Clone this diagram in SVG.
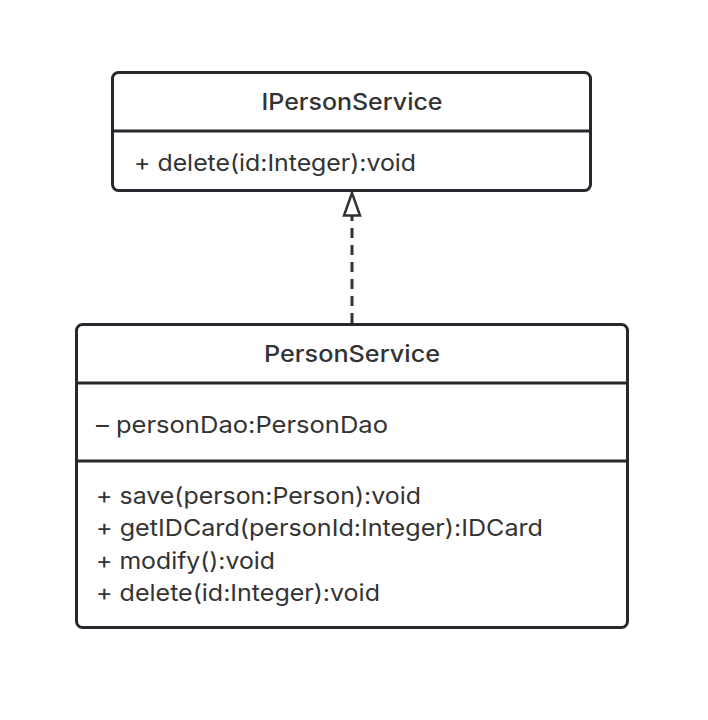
<svg xmlns="http://www.w3.org/2000/svg" width="708" height="720" viewBox="0 0 708 720">
<style>
.box{fill:#fff;stroke:#25282c;stroke-width:3}
.div{stroke:#25282c;stroke-width:3}
.t{font-family:Inter,"Noto Sans","Liberation Sans",sans-serif;font-size:23px;fill:#333}
.h{font-weight:500;text-anchor:middle}
</style>
<rect width="708" height="720" fill="#fff"/>
<g id="IPersonService">
<rect class="box" x="112.5" y="72.5" width="478" height="118" rx="6"/>
<line class="div" x1="112.5" y1="131" x2="590.5" y2="131"/>
<text class="t h" x="352" y="110" textLength="181" lengthAdjust="spacingAndGlyphs">IPersonService</text>
<text class="t" x="134" y="171" textLength="282" lengthAdjust="spacingAndGlyphs">+ delete(id:Integer):void</text>
</g>
<g id="PersonService">
<rect class="box" x="76.5" y="324.5" width="551" height="303" rx="6"/>
<line class="div" x1="76.5" y1="383" x2="627.5" y2="383"/>
<line class="div" x1="76.5" y1="461" x2="627.5" y2="461"/>
<text class="t h" x="352" y="362" textLength="176" lengthAdjust="spacingAndGlyphs">PersonService</text>
<text class="t" x="96" y="433" textLength="292" lengthAdjust="spacingAndGlyphs">– personDao:PersonDao</text>
<text class="t" x="96" y="504" textLength="325" lengthAdjust="spacingAndGlyphs">+ save(person:Person):void</text>
<text class="t" x="96" y="536" textLength="447" lengthAdjust="spacingAndGlyphs">+ getIDCard(personId:Integer):IDCard</text>
<text class="t" x="96" y="569" textLength="179" lengthAdjust="spacingAndGlyphs">+ modify():void</text>
<text class="t" x="96" y="601" textLength="284" lengthAdjust="spacingAndGlyphs">+ delete(id:Integer):void</text>
</g>
<g id="connectors">
<line x1="352" y1="323" x2="352" y2="216" stroke="#333" stroke-width="3" stroke-dasharray="10,7"/>
<polygon points="352,193 344,215.5 360,215.5" fill="#fff" stroke="#333" stroke-width="2.5"/>
</g>
</svg>
